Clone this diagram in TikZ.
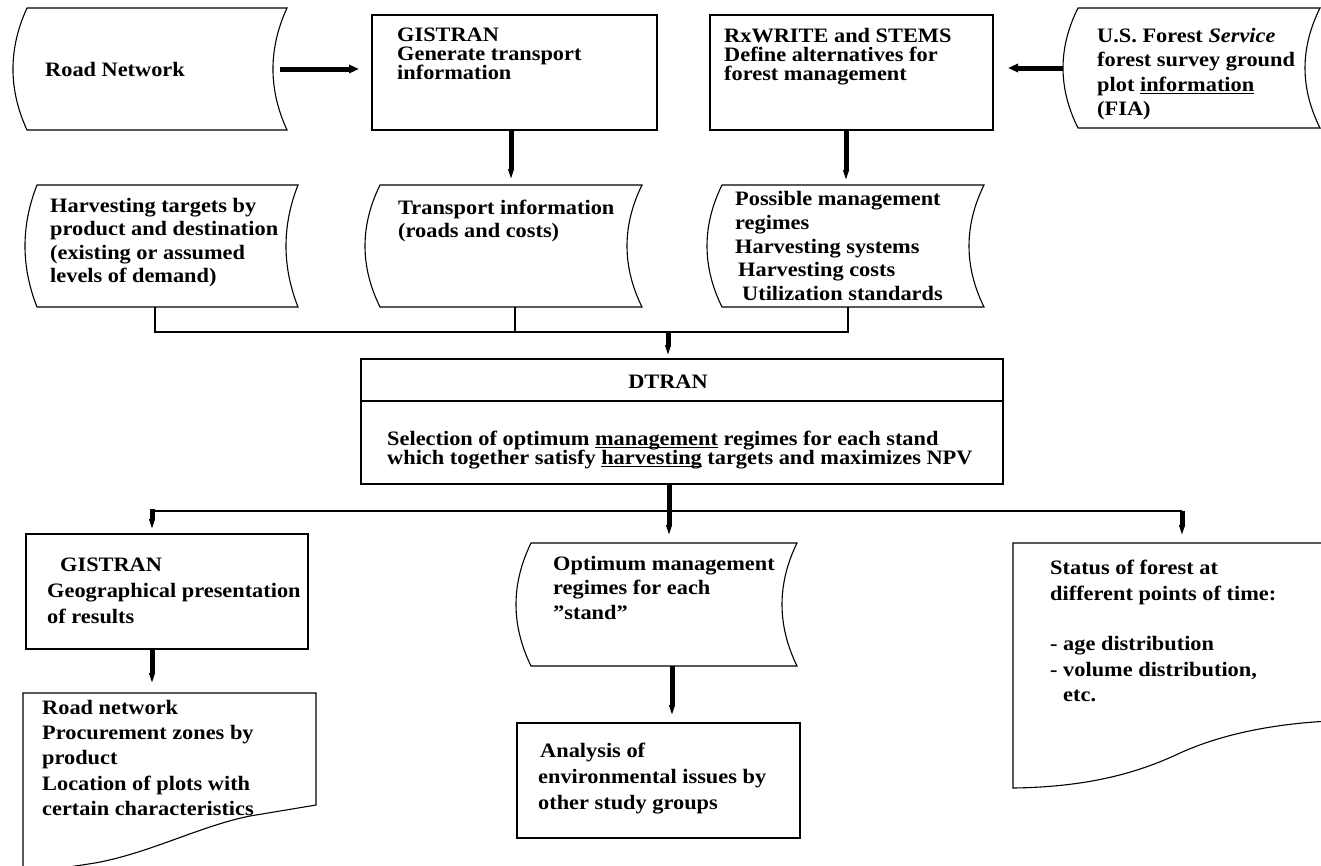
\documentclass[tikz,border=0pt]{standalone}
\usepackage{fontspec}
\setmainfont{Liberation Serif}[FakeStretch=1.09]
\usetikzlibrary{arrows.meta,calc}
\lineskiplimit=-40pt
\newcommand{\myul}[1]{\underline{\smash{#1}}}
\tikzset{
  outline/.style={draw, line width=1.1pt},
  frame/.style={outline, anchor=north west, inner sep=0pt, outer sep=0pt},
  ghost/.style={anchor=north west, inner sep=0pt, outer sep=0pt},
  txt/.style={anchor=north west, inner sep=0pt, align=left,
    font={\fontsize{20.5pt}{#1pt}\selectfont\bfseries}},
  txt/.default=24,
  conn/.style={line width=1.1pt},
  flow/.style={line width=5pt, -{Triangle[length=12pt,width=0pt 1]}},
  flowlong/.style={line width=5pt, -{Triangle[length=18pt,width=0pt 1.2]}},
}
\newcommand{\mystored}[2]{%
  \draw[outline] (#1.north west) -- (#1.north east)
    .. controls ($(#1.north east)!0.3333!(#1.south east)+(-#2,0)$) and ($(#1.north east)!0.6667!(#1.south east)+(-#2,0)$) .. (#1.south east)
    -- (#1.south west)
    .. controls ($(#1.south west)!0.3333!(#1.north west)+(-#2,0)$) and ($(#1.south west)!0.6667!(#1.north west)+(-#2,0)$) .. (#1.north west) -- cycle;}
\begin{document}
\begin{tikzpicture}[x=1pt,y=-1pt]
\useasboundingbox (0,0) rectangle (1321,865);
\fill[white] (0,0) rectangle (1321,865);
\clip (0,0) rectangle (1321,865);

% ---- top row
\node[ghost, minimum width=260pt, minimum height=122pt] (road) at (27,8) {};
\mystored{road}{18.7}
\node[txt, anchor=west] (roadt) at (45,69) {Road Network};

\node[frame, minimum width=285pt, minimum height=115pt] (gis1) at (372,15) {};
\node[txt=19] (gis1t) at (397,28) {GISTRAN\\Generate transport\\information};

\node[frame, minimum width=283pt, minimum height=115pt] (rx) at (710,15) {};
\node[txt=19] (rxt) at (724,28) {RxWRITE and STEMS\\Define alternatives for\\forest management};

\node[ghost, minimum width=242pt, minimum height=120pt] (fia) at (1078,8) {};
\mystored{fia}{20}
\node[txt=24.5] (fiat) at (1097,28) {U.S. Forest \textit{Service}\\forest survey ground\\plot \myul{information}\\(FIA)};

% ---- second row
\node[ghost, minimum width=261pt, minimum height=122pt] (harv) at (37,185) {};
\mystored{harv}{16}
\node[txt=23.3] (harvt) at (50,198) {Harvesting targets by\\product and destination\\(existing or assumed\\levels of demand)};

\node[ghost, minimum width=262pt, minimum height=122pt] (trans) at (380,185) {};
\mystored{trans}{20}
\node[txt=23] (transt) at (398,200) {Transport information\\(roads and costs)};

\node[ghost, minimum width=262pt, minimum height=122pt] (poss) at (722,185) {};
\mystored{poss}{20}
\node[txt=23.8] (posst) at (735,191) {Possible management\\regimes\\Harvesting systems\\\hspace*{3pt}Harvesting costs\\\hspace*{7pt}Utilization standards};

% ---- DTRAN
\node[frame, minimum width=642pt, minimum height=125pt] (dtran) at (361,359) {};
\draw[conn] ([yshift=-42pt]dtran.north west) -- ([yshift=-42pt]dtran.north east);
\node[txt, anchor=center] (dtranh) at (668,382) {DTRAN};
\node[txt=19] (dtranb) at (387,431) {Selection of optimum \myul{management} regimes for each stand\\which together satisfy \myul{harvesting} targets and maximizes NPV};

% ---- bottom row
\node[frame, minimum width=282pt, minimum height=115pt] (gis2) at (26,534) {};
\node[txt=26] (gis2t) at (47,558) {\hspace*{13pt}GISTRAN\\Geographical presentation\\of results};

\node[ghost, minimum width=266pt, minimum height=123pt] (opt) at (531,543) {};
\mystored{opt}{20}
\node[txt=24.5] (optt) at (553,556) {Optimum management\\regimes for each\\"stand"};

\node[ghost, minimum width=320pt, minimum height=245pt] (status) at (1013,543) {};
\draw[outline] (1330,543) -- (1013,543) -- (1013,788)
  .. controls (1090,787) and (1140,772) .. (1180,753)
  .. controls (1220,735) and (1270,724) .. (1330,721);
\node[txt=25.4] (statust) at (1050,560) {Status of forest at\\different points of time:\\\mbox{}\\- age distribution\\- volume distribution,\\\hspace*{13pt}etc.};

\node[ghost, minimum width=293pt, minimum height=172pt] (roadnet) at (23,693) {};
\draw[outline] (23,875) -- (23,693) -- (316,693) -- (316,805) -- (250,816)
  .. controls (200,826) and (150,853) .. (95,863) -- (23,874);
\node[txt=25.2] (roadnett) at (42,700) {Road network\\Procurement zones by\\product\\Location of plots with\\certain characteristics};

\node[frame, minimum width=283pt, minimum height=115pt] (anal) at (517,723) {};
\node[txt=26] (analt) at (538,743) {\hspace*{2pt}Analysis of\\environmental issues by\\other study groups};

% ---- connectors
\coordinate (rA) at ([xshift=-7pt]road.east);
\draw[flowlong, shorten >=5pt] (rA) -- (rA -| gis1.west);
\coordinate (fA) at ([xshift=-15pt]fia.west);
\draw[flowlong, shorten >=7pt] (fA) -- (fA -| rx.east);
\draw[flow, shorten >=4pt] (trans.north |- gis1.south) -- (trans.north);
\coordinate (pA) at ([xshift=-7pt]poss.north);
\draw[flow, shorten >=3pt] (pA |- rx.south) -- (pA);

\coordinate (busL) at (155,332);
\coordinate (busR) at (848,332);
\coordinate (tdrop) at (515,332);
\coordinate (jin) at (668,332);
\draw[conn] (busL |- harv.south) -- (busL) -- (busR) -- (busR |- poss.south);
\draw[conn] (tdrop |- trans.south) -- (tdrop);
\draw[flow, shorten >=2pt] (jin) -- (jin |- dtran.north);

\coordinate (oA) at ([xshift=5pt]opt.north);
\draw[flow, shorten >=6pt] (oA |- dtran.south) -- (oA);
\coordinate (b2L) at (155,511);
\coordinate (b2R) at (1182,511);
\draw[conn] (b2L) -- (b2R);
\coordinate (gA) at (152,509);
\draw[flow, shorten >=3pt] (gA) -- (gA |- gis2.north);
\draw[flow, shorten >=6pt] (b2R) -- (b2R |- status.north);
\draw[flow, shorten >=8pt] (gA |- gis2.south) -- (gA |- roadnet.north);
\coordinate (nA) at ([xshift=8pt]opt.south);
\draw[flow, shorten >=6pt] (nA) -- (nA |- anal.north);
\end{tikzpicture}
\end{document}
